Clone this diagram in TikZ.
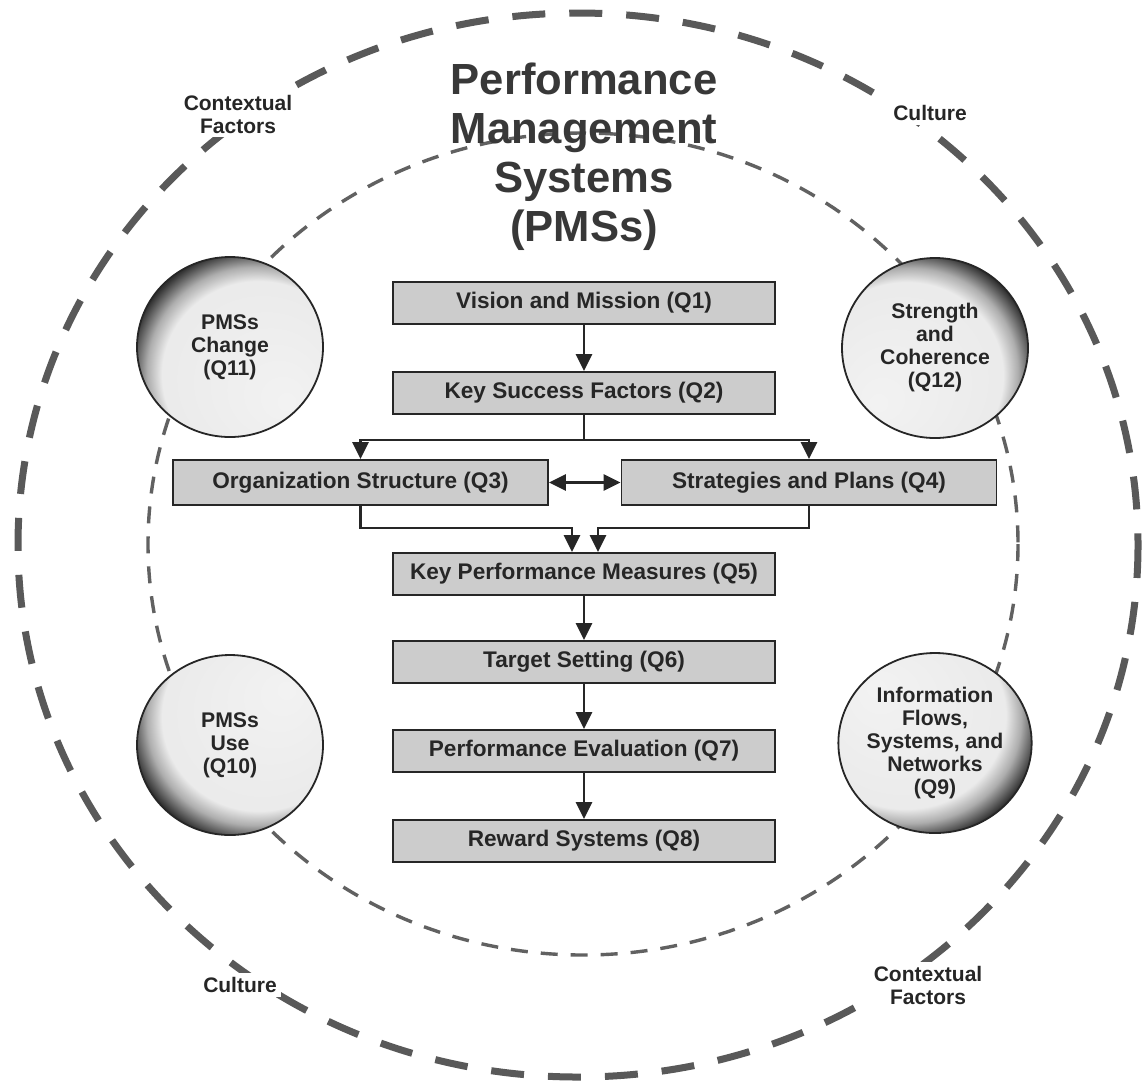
\documentclass[tikz,border=0pt]{standalone}
\usepackage{fontspec}
\setmainfont{Liberation Sans}
\usetikzlibrary{arrows.meta,shapes.geometric,calc}
\pgfdeclareradialshading{shTL}{\pgfpoint{16bp}{-16bp}}{color(0bp)=(black!5); color(26bp)=(black!8); color(29bp)=(black!32); color(32.5bp)=(black!80); color(50bp)=(black!80)}
\pgfdeclareradialshading{shTR}{\pgfpoint{-16bp}{-16bp}}{color(0bp)=(black!5); color(26bp)=(black!8); color(29bp)=(black!32); color(32.5bp)=(black!80); color(50bp)=(black!80)}
\pgfdeclareradialshading{shBL}{\pgfpoint{16bp}{16bp}}{color(0bp)=(black!5); color(26bp)=(black!8); color(29bp)=(black!32); color(32.5bp)=(black!80); color(50bp)=(black!80)}
\pgfdeclareradialshading{shBR}{\pgfpoint{-16bp}{16bp}}{color(0bp)=(black!5); color(26bp)=(black!8); color(29bp)=(black!32); color(32.5bp)=(black!80); color(50bp)=(black!80)}
\begin{document}
\begin{tikzpicture}[x=0.5pt,y=-0.5pt,
 box/.style={draw=black!85, line width=0.9pt, fill=black!20, minimum width=191pt, minimum height=21pt, inner sep=0pt, font=\bfseries\fontsize{11.3}{13}\selectfont, text=black!85},
 wbox/.style={box, minimum width=187.5pt, minimum height=22.5pt},
 ball/.style={ellipse, draw=black!85, line width=0.9pt, minimum width=93pt, minimum height=90pt, inner sep=0pt, align=center, font=\bfseries\fontsize{10.6}{11.5}\selectfont, text=black!85},
 lab/.style={align=center, fill=white, inner sep=2pt, font=\bfseries\fontsize{10.5}{11.5}\selectfont, text=black!85},
 arr/.style={line width=1.4pt, draw=black!85, -{Triangle[length=8.5pt,width=8pt]}},
 arrtwo/.style={line width=1.4pt, draw=black!85, {Triangle[length=8.5pt,width=8pt]}-{Triangle[length=8.5pt,width=8pt]}},
 line/.style={line width=1.4pt, draw=black!85},
 outerring/.style={draw=black!65, line width=3.5pt, dash pattern=on 16.5pt off 12pt},
 innerring/.style={draw=black!62, line width=1.7pt, dash pattern=on 8.5pt off 6.5pt}]
\path[use as bounding box, fill=white] (0,0) rectangle (1143,1083);
% rings
\draw[outerring] (578,545) ellipse [x radius=560, y radius=532];
\draw[innerring] (583,544) ellipse [x radius=435, y radius=411];
% title
\node[align=center, font=\bfseries\fontsize{21.8}{24.5}\selectfont, text=black!78] (title) at (584,157) {Performance\\Management\\Systems\\(PMSs)};
% outer labels
\node[lab] (ctxa) at (238,114) {Contextual\\Factors};
\node[lab] (cula) at (930,113) {Culture};
\node[lab] (culb) at (240,985) {Culture};
\node[lab] (ctxb) at (928,985) {Contextual\\Factors};
% boxes
\node[box] (vm) at (584,303) {Vision and Mission (Q1)};
\node[box] (ksf) at (584,393) {Key Success Factors (Q2)};
\node[wbox] (org) at (360.5,482.5) {Organization Structure (Q3)};
\node[wbox] (strat) at (809,482.5) {Strategies and Plans (Q4)};
\node[box] (kpm) at (584,574) {Key Performance Measures (Q5)};
\node[box] (tgt) at (584,662) {Target Setting (Q6)};
\node[box] (pe) at (584,751) {Performance Evaluation (Q7)};
\node[box] (rs) at (584,841) {Reward Systems (Q8)};
% balls
\node[ball, shading=shTL] (c11) at (230,347) {PMSs\\Change\\(Q11)};
\node[ball, shading=shTR] (c12) at (935,348) {Strength\\and\\Coherence\\(Q12)};
\node[ball, shading=shBL] (c10) at (230,745) {PMSs\\Use\\(Q10)};
\node[ball, shading=shBR] (c9) at (935,743) {Information\\Flows,\\Systems, and\\Networks\\(Q9)};
% connectors
\coordinate (split) at (584,440);
\draw[arr] (vm) -- (ksf);
\draw[line] (ksf) -- (split);
\draw[arr] (split) -| (org.north);
\draw[arr] (split) -| (strat.north);
\draw[arrtwo] (org) -- (strat);
\draw[arr] (org.south) -- ++(0,22) -| ([xshift=-6pt]kpm.north);
\draw[arr] (strat.south) -- ++(0,22) -| ([xshift=7pt]kpm.north);
\draw[arr] (kpm) -- (tgt);
\draw[arr] (tgt) -- (pe);
\draw[arr] (pe) -- (rs);
\end{tikzpicture}
\end{document}
